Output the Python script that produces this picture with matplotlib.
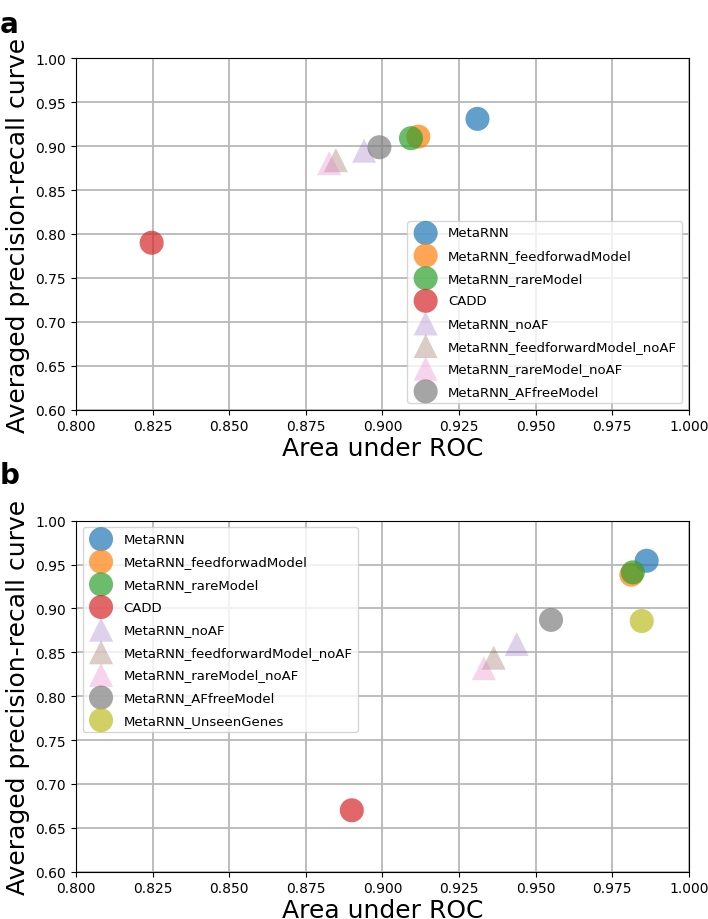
import matplotlib
matplotlib.use('Agg')
import matplotlib.pyplot as plt

# panel a: whole test set
labels_a = ['MetaRNN', 'MetaRNN_feedforwadModel', 'MetaRNN_rareModel', 'CADD',
            'MetaRNN_noAF', 'MetaRNN_feedforwardModel_noAF', 'MetaRNN_rareModel_noAF',
            'MetaRNN_AFfreeModel']
auc_a = [0.931, 0.9117, 0.9093, 0.8247, 0.8940, 0.8848, 0.8826, 0.8990]
apr_a = [0.931, 0.9108, 0.9090, 0.7900, 0.8948, 0.8840, 0.8806, 0.8987]

# panel b: unseen genes test set
labels_b = labels_a + ['MetaRNN_UnseenGenes']
auc_b = [0.9862, 0.9812, 0.9817, 0.8900, 0.9438, 0.9363, 0.9331, 0.9550, 0.9846]
apr_b = [0.9544, 0.9385, 0.9412, 0.6700, 0.8595, 0.8439, 0.8320, 0.8870, 0.8857]

colors = ['tab:blue', 'tab:orange', 'tab:green', 'tab:red', 'tab:purple',
          'tab:brown', 'tab:pink', 'tab:gray', 'tab:olive']
markers = ['o', 'o', 'o', 'o', '^', '^', '^', 'o', 'o']
alphas = [0.7, 0.7, 0.7, 0.7, 0.3, 0.3, 0.3, 0.7, 0.7]

xticks = [0.800, 0.825, 0.850, 0.875, 0.900, 0.925, 0.950, 0.975, 1.000]
yticks = [0.60, 0.65, 0.70, 0.75, 0.80, 0.85, 0.90, 0.95, 1.00]

fig = plt.figure(figsize=(7.08, 9.2), dpi=100)
ax1 = fig.add_axes([0.1073, 0.5536, 0.8658, 0.382])
ax2 = fig.add_axes([0.1073, 0.0514, 0.8658, 0.3815])


def draw(ax, labels, xs, ys, loc):
    for i, lab in enumerate(labels):
        ax.scatter(xs[i], ys[i], s=300, c=colors[i], marker=markers[i],
                   alpha=alphas[i], edgecolors='none', label=lab, zorder=3)
    ax.set_xlim(0.8, 1.0)
    ax.set_ylim(0.6, 1.0)
    ax.set_xticks(xticks)
    ax.set_xticklabels(['%.3f' % v for v in xticks])
    ax.set_yticks(yticks)
    ax.set_yticklabels(['%.2f' % v for v in yticks])
    ax.tick_params(labelsize=10)
    ax.grid(True, color='#b8b8b8', linewidth=1.3)
    ax.set_axisbelow(True)
    ax.set_xlabel('Area under ROC', fontsize=18, labelpad=2)
    ax.set_ylabel('Averaged precision-recall curve', fontsize=18, labelpad=4)
    ax.legend(loc=loc, fontsize=9.5, labelspacing=0.73, handletextpad=0.7)


draw(ax1, labels_a, auc_a, apr_a, 'lower right')
draw(ax2, labels_b, auc_b, apr_b, 'upper left')

fig.text(0.0, 0.988, 'a', fontsize=20, fontweight='bold', va='top')
fig.text(0.0, 0.498, 'b', fontsize=20, fontweight='bold', va='top')

fig.savefig('out.png', dpi=100)
